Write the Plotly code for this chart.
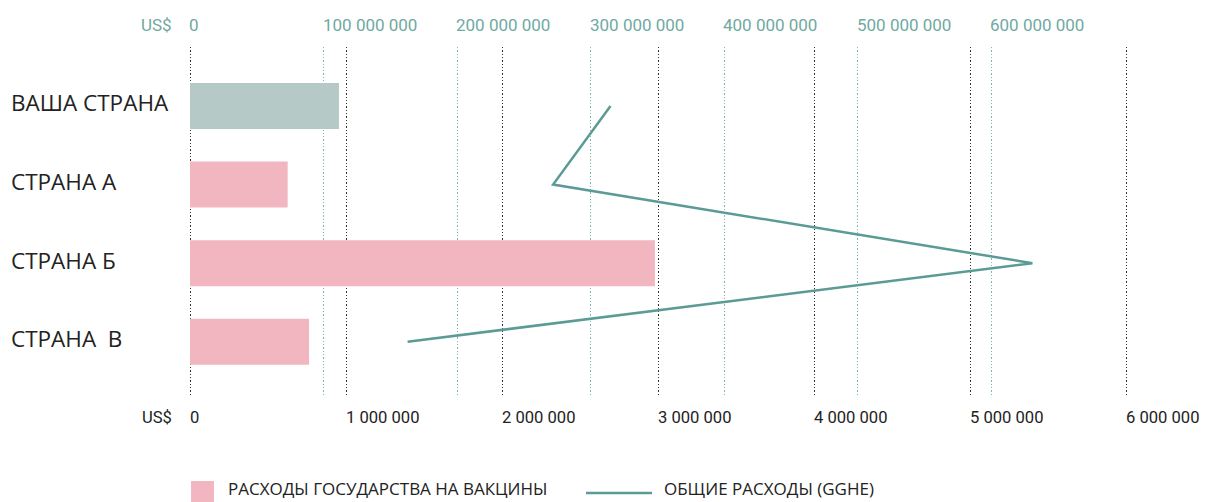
import plotly.graph_objects as go

categories = ["ВАША СТРАНА", "СТРАНА А", "СТРАНА Б", "СТРАНА  В"]
vaccine_spend = [955000, 626000, 2980000, 763000]          # bottom axis, US$
gghe_spend = [315000000, 272000000, 631000000, 163000000]  # top axis, US$
bottom_ticks = [0, 1000000, 2000000, 3000000, 4000000, 5000000, 6000000]
bottom_labels = ["0", "1 000 000", "2 000 000", "3 000 000", "4 000 000", "5 000 000", "6 000 000"]
top_ticks = [0, 100000000, 200000000, 300000000, 400000000, 500000000, 600000000]
top_labels = ["0", "100 000 000", "200 000 000", "300 000 000", "400 000 000", "500 000 000", "600 000 000"]
legend_names = ["РАСХОДЫ ГОСУДАРСТВА НА ВАКЦИНЫ", "ОБЩИЕ РАСХОДЫ (GGHE)"]

grey_teal = "#b5c9c7"
pink = "#f2b6c1"
bar_colors = [grey_teal, pink, pink, pink]
teal = "#5b9b95"
teal_text = "#6fa9a2"
num_font = "Roboto"
cat_font = "Open Sans"

fig = go.Figure()
# line on the (teal, top) main axis, bars on the (black, bottom) overlaying axis
fig.add_trace(go.Scatter(
    y=categories, x=gghe_spend, mode="lines",
    line=dict(color=teal, width=2.5),
    name=legend_names[1], xaxis="x", yaxis="y", showlegend=False,
))
fig.add_trace(go.Bar(
    y=categories, x=vaccine_spend, orientation="h",
    marker=dict(color=bar_colors, line=dict(width=0)),
    width=0.585, name=legend_names[0], xaxis="x2", yaxis="y",
    showlegend=False,
))

annotations = []
for v, t in zip(bottom_ticks, bottom_labels):
    annotations.append(dict(x=v, y=0, xref="x2", yref="paper", text=t,
                            xanchor="left", yanchor="middle", yshift=-21, xshift=-2,
                            showarrow=False, font=dict(family=num_font, size=16.6, color="#222")))
annotations.append(dict(x=0, y=0, xref="x2", yref="paper", text="US$",
                        xanchor="right", yanchor="middle", yshift=-21, xshift=-16,
                        showarrow=False, font=dict(family=num_font, size=16.6, color="#222")))
for v, t in zip(top_ticks, top_labels):
    annotations.append(dict(x=v, y=1, xref="x", yref="paper", text=t,
                            xanchor="left", yanchor="middle", yshift=22, xshift=-3,
                            showarrow=False, font=dict(family=num_font, size=17, color=teal_text)))
annotations.append(dict(x=0, y=1, xref="x", yref="paper", text="US$",
                        xanchor="right", yanchor="middle", yshift=22, xshift=-16,
                        showarrow=False, font=dict(family=num_font, size=17, color=teal_text)))
for c in categories:
    annotations.append(dict(x=-0.1890, y=c, xref="paper", yref="y", text=c.replace("  ", "&nbsp;&nbsp;"),
                            xanchor="left", yanchor="middle", yshift=3, showarrow=False,
                            font=dict(family=cat_font, size=22.5, color="#222")))

# legend (drawn manually to match swatch sizes)
leg_y = -0.2779
annotations.append(dict(x=0.0416, y=-0.3037, xref="paper", yref="paper", text=legend_names[0],
                        xanchor="left", yanchor="bottom", showarrow=False,
                        font=dict(family=cat_font, size=17, color="#222")))
annotations.append(dict(x=0.5042, y=-0.3037, xref="paper", yref="paper", text=legend_names[1],
                        xanchor="left", yanchor="bottom", showarrow=False,
                        font=dict(family=cat_font, size=17, color="#222")))
shapes = [
    dict(type="rect", xref="paper", yref="paper", x0=0.0043, x1=0.0286, y0=-0.2436, y1=-0.3066,
         fillcolor=pink, line=dict(width=0)),
    dict(type="line", xref="paper", yref="paper", x0=0.4236, x1=0.4936, y0=leg_y, y1=leg_y,
         line=dict(color=teal, width=2.5)),
]

fig.update_layout(
    width=1205, height=502,
    margin=dict(l=187, r=76, t=47, b=106),
    plot_bgcolor="white", paper_bgcolor="white",
    showlegend=False,
    xaxis=dict(range=[-2247191, 703370787], side="top",
               tickvals=top_ticks, showticklabels=False,
               showgrid=True, gridcolor="#7fb7b0", griddash="1.3px,2px", gridwidth=1.3,
               zeroline=False, showline=False),
    xaxis2=dict(range=[-19231, 6019231], overlaying="x", side="bottom",
                tickvals=bottom_ticks, showticklabels=False,
                showgrid=True, gridcolor="#333", griddash="1.3px,2px", gridwidth=1.3,
                zeroline=False, showline=False),
    yaxis=dict(categoryorder="array", categoryarray=categories,
               range=[3.69, -0.75], showticklabels=False, showgrid=False,
               zeroline=False),
    annotations=annotations,
    shapes=shapes,
)

fig.write_html("out.html", config={"displayModeBar": False},
               post_script="document.body.style.margin='0';document.body.style.overflow='hidden';")
